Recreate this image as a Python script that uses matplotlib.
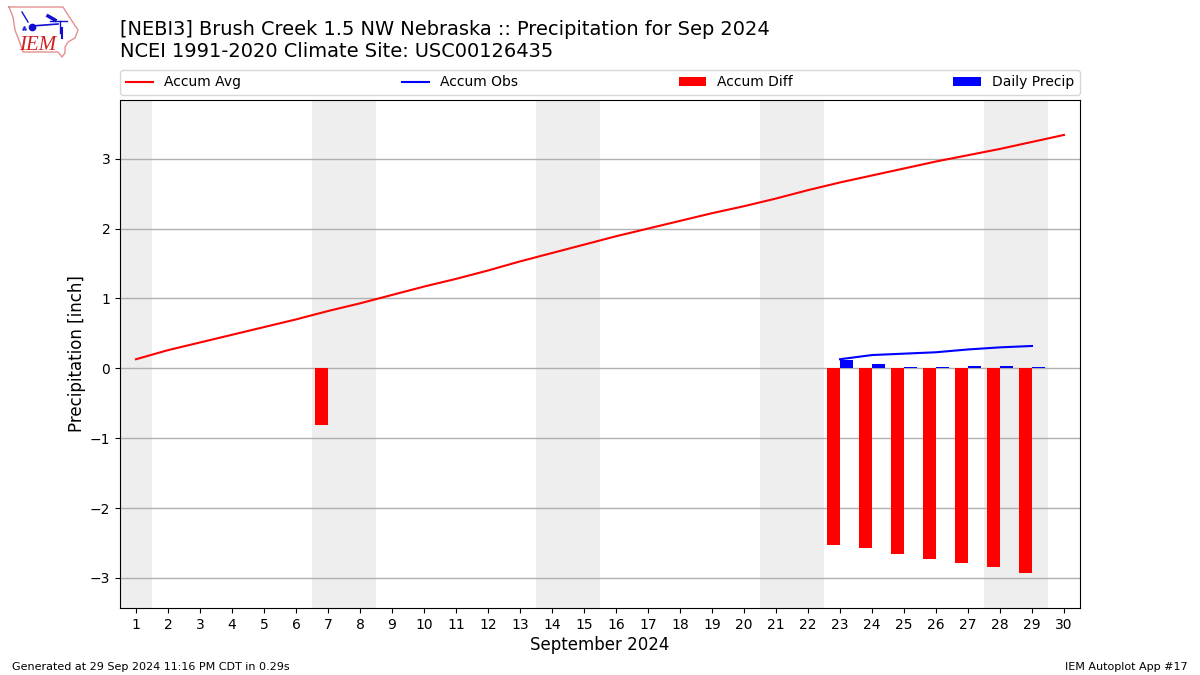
import numpy as np
import matplotlib
matplotlib.use("Agg")
import matplotlib.pyplot as plt

days = list(range(1, 31))
accum_avg = [0.13, 0.26, 0.37, 0.48, 0.59, 0.70, 0.82, 0.93, 1.05, 1.17,
             1.28, 1.40, 1.53, 1.65, 1.77, 1.89, 2.00, 2.11, 2.22, 2.32,
             2.43, 2.55, 2.66, 2.76, 2.86, 2.96, 3.05, 3.14, 3.24, 3.34]
obs_days = [23, 24, 25, 26, 27, 28, 29]
accum_obs = [0.13, 0.19, 0.21, 0.23, 0.27, 0.30, 0.32]
daily_precip = [0.12, 0.06, 0.02, 0.02, 0.03, 0.03, 0.02]
diff_days = [7, 23, 24, 25, 26, 27, 28, 29]
accum_diff = [-0.81, -2.53, -2.57, -2.66, -2.73, -2.78, -2.84, -2.93]
weekends = [(0.5, 1.5), (6.5, 8.5), (13.5, 15.5), (20.5, 22.5), (27.5, 29.5)]

# logo outline, pixels of the picture
iowa_x = [9, 63, 68, 78, 75, 68, 65, 65, 62, 58, 23, 20, 15, 13, 9]
iowa_y = [7, 7, 15, 30, 38, 42, 47, 53, 57, 52, 52, 43, 30, 17, 7]

fig = plt.figure(figsize=(12, 6.75), dpi=100)
ax = fig.add_axes([0.1, 1 - 608 / 675, 0.8, 508 / 675])

for start, end in weekends:
    ax.axvspan(start, end, color="#eeeeee", lw=0, zorder=0)

ax.grid(axis="y", color="#b0b0b0", lw=1)
ax.set_axisbelow(True)
ax.plot(days, accum_avg, color="r", lw=1.5, label="Accum Avg")
ax.plot(obs_days, accum_obs, color="b", lw=1.5, label="Accum Obs")
ax.bar(np.array(diff_days) - 0.4, accum_diff, width=0.4, align="edge", color="r", label="Accum Diff")
ax.bar(obs_days, daily_precip, width=0.4, align="edge", color="b", label="Daily Precip")

ax.set_xlim(0.5, 30.5)
ax.set_ylim(-3.43, 3.84)
ax.set_xticks(days)
ax.set_yticks([-3, -2, -1, 0, 1, 2, 3])
ax.tick_params(labelsize=10)
ax.set_xlabel("September 2024", fontsize=12, labelpad=3)
ax.set_ylabel("Precipitation [inch]", fontsize=12, labelpad=3)
ax.legend(loc="lower left", bbox_to_anchor=(0, 1.01, 1, 0.05), ncol=4, mode="expand",
          borderaxespad=0, fontsize=10)

fig.text(0.1, 1 - 29.5 / 675, "[NEBI3] Brush Creek 1.5 NW Nebraska :: Precipitation for Sep 2024",
         fontsize=13.99, va="center")
fig.text(0.1, 1 - 51.5 / 675, "NCEI 1991-2020 Climate Site: USC00126435", fontsize=13.99, va="center")
fig.text(0.01, 1 - 667 / 675, "Generated at 29 Sep 2024 11:16 PM CDT in 0.29s", fontsize=8, va="center")
fig.text(0.99, 1 - 667 / 675, "IEM Autoplot App #17", fontsize=8, va="center", ha="right")

# IEM logo, drawn on a pixel overlay
logo = fig.add_axes([0, 0, 1, 1], facecolor="none")
logo.set_xlim(0, 1200)
logo.set_ylim(675, 0)
logo.axis("off")
logo.plot(iowa_x, iowa_y, color="#e49090", lw=1)
logo.plot([32, 58], [26, 24], color="#1010d0", lw=1.2)
logo.plot([22, 28], [12, 22], color="#1010d0", lw=1)
logo.plot([60, 60], [21, 33], color="#1010d0", lw=1)
logo.plot([62, 62], [28, 38], color="#1010d0", lw=1.5)
logo.plot([48, 55], [16, 20], color="#1010d0", lw=2.5)
logo.plot([50, 67], [21, 21], color="#1010d0", lw=1)
logo.plot([31.5], [26.5], "o", color="#1010d0", ms=4.5)
logo.plot([23, 25, 24], [29, 29, 27], ".", color="#1010d0", ms=1.5)
logo.text(37.5, 45, "IEM", color="#d02020", fontsize=15, family="Liberation Serif", style="italic",
          ha="center", va="center")

fig.savefig("out.png", dpi=100)
